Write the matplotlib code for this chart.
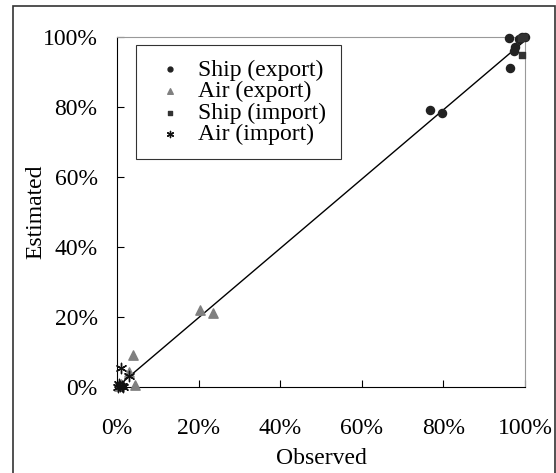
import matplotlib.pyplot as plt
from matplotlib.patches import Rectangle
from matplotlib.ticker import PercentFormatter

plt.rcParams['font.family'] = ['Liberation Serif', 'DejaVu Serif']

# observed / estimated shares (fraction)
ship_exp_obs = [0.960, 0.972, 0.964, 0.767, 0.796, 0.975, 0.985, 0.993, 1.000]
ship_exp_est = [0.997, 0.959, 0.911, 0.792, 0.783, 0.970, 0.995, 1.000, 1.000]
air_exp_obs = [0.204, 0.235, 0.039, 0.030, 0.043, 0.010, 0.005]
air_exp_est = [0.221, 0.211, 0.092, 0.044, 0.006, 0.010, 0.003]
ship_imp_obs = [0.992, 0.990, 0.998]
ship_imp_est = [0.948, 0.998, 1.000]
air_imp_obs = [0.009, 0.030, 0.003, 0.008, 0.015, 0.005, 0.012]
air_imp_est = [0.055, 0.032, 0.001, 0.002, 0.001, 0.008, 0.004]
fit_x = [0.0, 1.0]
fit_y = [0.0, 0.99]

fig = plt.figure(figsize=(5.56, 4.73), dpi=100)
ax = fig.add_axes([0.2104, 0.1818, 0.7338, 0.7400])

ax.plot(fit_x, fit_y, color='black', lw=1.0, zorder=1)
ax.scatter(ship_exp_obs, ship_exp_est, marker='o', s=34, color='#222222', label='Ship (export)', clip_on=False, zorder=3)
ax.scatter(air_exp_obs, air_exp_est, marker='^', s=45, color='#808080', label='Air (export)', clip_on=False, zorder=3)
ax.scatter(ship_imp_obs, ship_imp_est, marker='s', s=18, color='#333333', label='Ship (import)', clip_on=False, zorder=3)
ax.scatter(air_imp_obs, air_imp_est, marker=(6, 2, 0), s=55, color='#111111', linewidths=1.0, label='Air (import)', clip_on=False, zorder=4)

ax.set_xlim(0, 1)
ax.set_ylim(0, 1)
ax.xaxis.set_major_formatter(PercentFormatter(1.0, decimals=0))
ax.yaxis.set_major_formatter(PercentFormatter(1.0, decimals=0))
ax.set_xticks([0, 0.2, 0.4, 0.6, 0.8, 1.0])
ax.set_yticks([0, 0.2, 0.4, 0.6, 0.8, 1.0])
ax.tick_params(direction='in', length=5, labelsize=17)
ax.tick_params(axis='x', top=False, pad=22)
ax.tick_params(axis='y', right=False, pad=14)
ax.spines['top'].set_color('#999999')
ax.spines['right'].set_color('#999999')
ax.set_xlabel('Observed', fontsize=17, labelpad=7)
ax.set_ylabel('Estimated', fontsize=17, labelpad=-3)

leg = ax.legend(loc='upper left', bbox_to_anchor=(136 / 556, 1 - 45 / 473), bbox_transform=fig.transFigure,
                borderaxespad=0, fontsize=17, frameon=True, fancybox=False, edgecolor='black',
                markerscale=0.6, handletextpad=0.34, labelspacing=0.0, borderpad=0.6,
                handlelength=1.7)
leg.get_frame().set_linewidth(0.8)

fig.patches.append(Rectangle((12.5 / 556, -0.02), 542.5 / 556, 1.02 - 6 / 473, transform=fig.transFigure,
                             fill=False, edgecolor='#333333', lw=1.2))

fig.savefig('out.png', dpi=100)
